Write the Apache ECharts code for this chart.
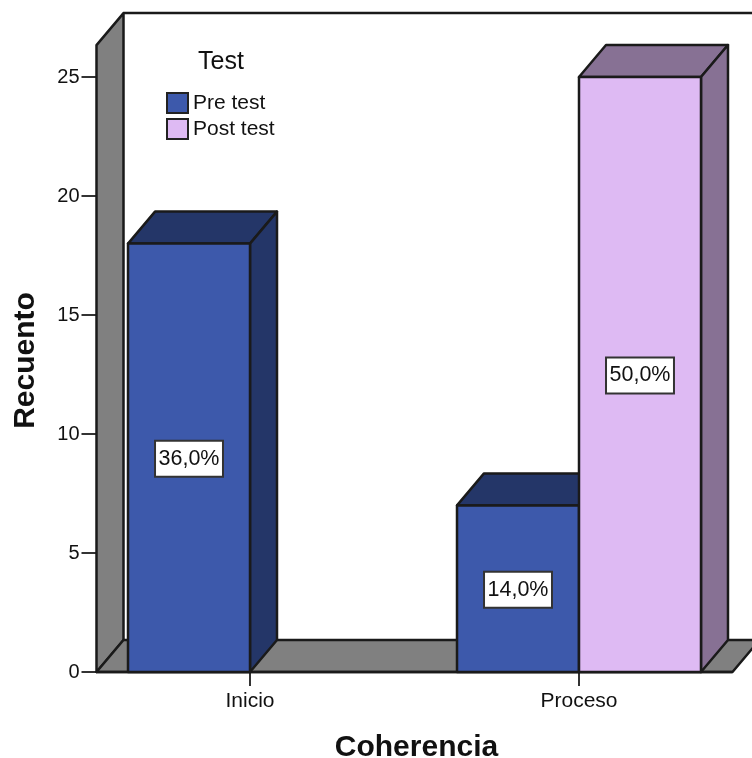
<!DOCTYPE html>
<html><head><meta charset="utf-8">
<style>html,body{margin:0;padding:0;background:#fff}#c{width:752px;height:758px}</style>
<script src="https://cdn.jsdelivr.net/npm/echarts@6/dist/echarts.min.js"></script>
</head><body><div id="c"></div>
<script>
const categories = ['Inicio', 'Proceso'];
const preTest = [18, 7];
const postTest = [null, 25];
const preLabels = ['36,0%', '14,0%'];
const postLabels = [null, '50,0%'];
const seriesNames = ['Pre test', 'Post test'];
const legendTitle = 'Test';
const xTitle = 'Coherencia';
const yTitle = 'Recuento';

const DX = 27, DY = 32, BAR_FRACTION = 0.3708, LINE = '#1a1a1a', LW = 2.5;
const WALL_INSET = 11, WALL_RIGHT_INSET = 11;
const FONT = '"Liberation Sans", Arial, sans-serif';

function bar(colors, labels, side) {
  return function (params, api) {
    const i = api.value(0), v = api.value(1);
    const top = api.coord([i, v]), base = api.coord([i, 0]);
    const w = api.size([1, 0])[0] * BAR_FRACTION;
    const x0 = side < 0 ? top[0] - w : top[0], x1 = x0 + w;
    const ls = { stroke: LINE, lineWidth: LW, lineJoin: 'round' };
    const poly = (pts, fill) => ({ type: 'polygon', shape: { points: pts }, style: Object.assign({ fill }, ls) });
    return { type: 'group', children: [
      poly([[x0, top[1]], [x1, top[1]], [x1 + DX, top[1] - DY], [x0 + DX, top[1] - DY]], colors.dark),
      poly([[x1, top[1]], [x1 + DX, top[1] - DY], [x1 + DX, base[1] - DY], [x1, base[1]]], colors.dark),
      poly([[x0, top[1]], [x1, top[1]], [x1, base[1]], [x0, base[1]]], colors.front),
      { type: 'text', z2: 10, style: {
        text: labels[i], x: (x0 + x1) / 2, y: (top[1] + base[1]) / 2 + 1, align: 'center', verticalAlign: 'middle',
        font: '21.5px ' + FONT, fill: '#111', backgroundColor: '#fff', borderColor: '#333', borderWidth: 2,
        padding: [6, 2.5, 6, 2.5]
      } }
    ] };
  };
}

function walls(params, api) {
  const cs = params.coordSys;
  const left = cs.x + WALL_INSET, right = cs.x + cs.width - WALL_RIGHT_INSET;
  const y0 = api.coord([0, 0])[1], yTop = api.coord([0, api.value(1)])[1];
  const ls = { stroke: LINE, lineWidth: LW, lineJoin: 'round' };
  const poly = (pts) => ({ type: 'polygon', shape: { points: pts }, style: Object.assign({ fill: '#808080' }, ls) });
  return { type: 'group', children: [
    { type: 'line', shape: { x1: left + DX, y1: yTop - DY, x2: 752, y2: yTop - DY }, style: { stroke: LINE, lineWidth: LW } },
    poly([[left, yTop], [left + DX, yTop - DY], [left + DX, y0 - DY], [left, y0]]),
    poly([[left, y0], [left + DX, y0 - DY], [right + DX, y0 - DY], [right, y0]]),
    { type: 'line', shape: { x1: left, y1: y0, x2: right, y2: y0 }, style: { stroke: LINE, lineWidth: LW } }
  ] };
}

const blue = { front: '#3D59AB', dark: '#243668' };
const lilac = { front: '#DEBAF3', dark: '#877194' };
const toPairs = arr => arr.map((v, i) => [i, v]).filter(p => p[1] !== null);

const chart = echarts.init(document.getElementById('c'), null, { renderer: 'canvas' });
chart.setOption({
  animation: false,
  backgroundColor: '#fff',
  title: { text: legendTitle, left: 198, top: 50, padding: 0, textStyle: { fontFamily: FONT, fontSize: 25, fontWeight: 'normal', color: '#111' } },
  legend: {
    data: seriesNames, orient: 'vertical', left: 166, top: 92, padding: 0,
    itemWidth: 21, itemHeight: 20, itemGap: 4, icon: 'rect',
    selectedMode: false,
    itemStyle: { borderColor: '#222', borderWidth: 2 },
    textStyle: { fontFamily: FONT, fontSize: 21, lineHeight: 20, color: '#111', padding: [0, 0, 0, 0] }
  },
  grid: { left: 85.5, top: 77, width: 658, height: 595, outerBoundsMode: 'none' },
  xAxis: {
    type: 'category', data: categories,
    name: xTitle, nameLocation: 'middle', nameGap: 61,
    nameTextStyle: { fontFamily: FONT, fontSize: 30, fontWeight: 'bold', color: '#111', padding: [0, 0, 0, 4] },
    axisLine: { show: false },
    axisTick: { show: true, alignWithLabel: true, length: 14, lineStyle: { color: '#333', width: 2 } },
    axisLabel: { fontFamily: FONT, fontSize: 21, color: '#111', margin: 19 }
  },
  yAxis: {
    type: 'value', min: 0, max: 25, interval: 5, offset: -11,
    name: yTitle, nameLocation: 'middle', nameGap: 56,
    nameTextStyle: { fontFamily: FONT, fontSize: 30, fontWeight: 'bold', color: '#111', padding: [0, 0, 0, 28] },
    axisLine: { show: false }, splitLine: { show: false },
    axisTick: { show: true, length: 15, lineStyle: { color: '#333', width: 2 } },
    axisLabel: { fontFamily: FONT, fontSize: 20, color: '#111', margin: 17 }
  },
  series: [
    { type: 'custom', name: 'walls', silent: true, renderItem: walls, data: [[0, 26.34]], encode: { x: 0, y: 1 }, z: 1, clip: false },
    { type: 'custom', name: seriesNames[0], renderItem: bar(blue, preLabels, -1), data: toPairs(preTest), encode: { x: 0, y: 1 }, itemStyle: { color: blue.front }, z: 2 },
    { type: 'custom', name: seriesNames[1], renderItem: bar(lilac, postLabels, 1), data: toPairs(postTest), encode: { x: 0, y: 1 }, itemStyle: { color: lilac.front }, z: 3 }
  ]
});
</script></body></html>
